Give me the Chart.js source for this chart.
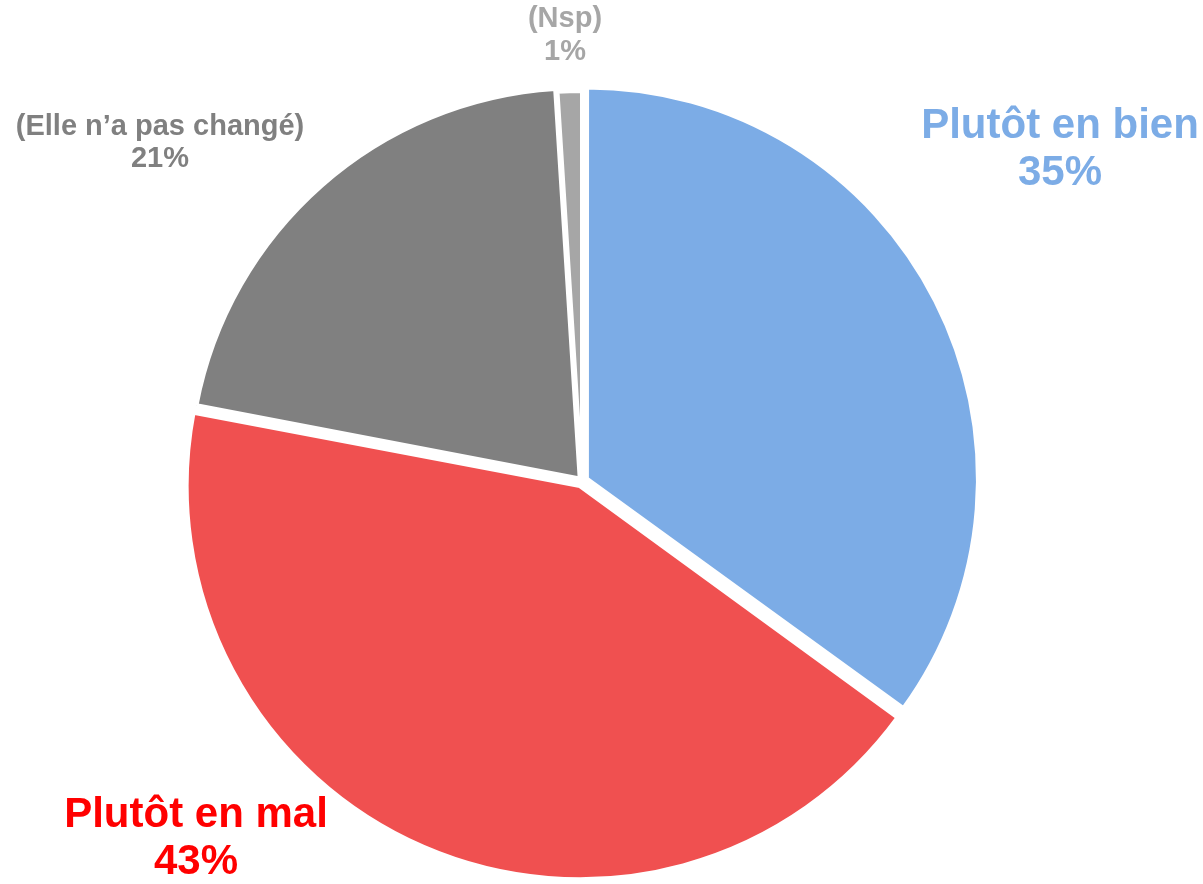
<!DOCTYPE html>
<html lang="fr">
<head>
<meta charset="utf-8">
<title>Plutôt en bien / Plutôt en mal</title>
<script src="https://cdn.jsdelivr.net/npm/chart.js@4.4.1/dist/chart.umd.min.js"></script>
<style>
  html, body { margin: 0; padding: 0; background: #fff; }
  #wrap { width: 1203px; height: 884px; }
</style>
</head>
<body>
<div id="wrap"><canvas id="pie" width="1203" height="884"></canvas></div>
<script>
  // données (en %)
  const categories = ['Plutôt en bien', 'Plutôt en mal', '(Elle n\u2019a pas changé)', '(Nsp)'];
  const values = [35, 43, 21, 1];
  const sliceColors = ['#7CACE6', '#F05050', '#808080', '#A6A6A6'];
  const labelColors = ['#7CACE6', '#FF0000', '#808080', '#A6A6A6'];
  const labelSizes = [42, 42, 29, 29];
  // centre de chaque étiquette (px) et interligne
  const labelAnchors = [[1060, 126], [196, 815], [160, 127], [565, 19]];
  const lineGaps = [47, 47, 32, 33];
  // chart.js divise l'offset par ~4 au dessin
  const sliceOffsets = [22, 22, 14, 0];

  const labelPlugin = {
    id: 'sliceLabels',
    afterDraw(chart) {
      const ctx = chart.ctx;
      ctx.save();
      ctx.textAlign = 'center';
      ctx.textBaseline = 'middle';
      categories.forEach((name, i) => {
        const [x, y] = labelAnchors[i];
        ctx.fillStyle = labelColors[i];
        ctx.font = 'bold ' + labelSizes[i] + 'px Arial, "Liberation Sans", sans-serif';
        ctx.fillText(name, x, y);
        ctx.fillText(values[i] + '%', x, y + lineGaps[i]);
      });
      ctx.restore();
    }
  };

  new Chart(document.getElementById('pie'), {
    type: 'pie',
    data: {
      labels: categories,
      datasets: [{
        data: values,
        backgroundColor: sliceColors,
        borderColor: '#ffffff',
        borderWidth: 4,
        offset: sliceOffsets,
        hoverOffset: 0
      }]
    },
    options: {
      responsive: false,
      animation: false,
      events: [],
      radius: 390,
      layout: { padding: { top: 78, bottom: 0, left: 0, right: 39 } },
      plugins: {
        legend: { display: false },
        tooltip: { enabled: false }
      }
    },
    plugins: [labelPlugin]
  });
</script>
</body>
</html>
